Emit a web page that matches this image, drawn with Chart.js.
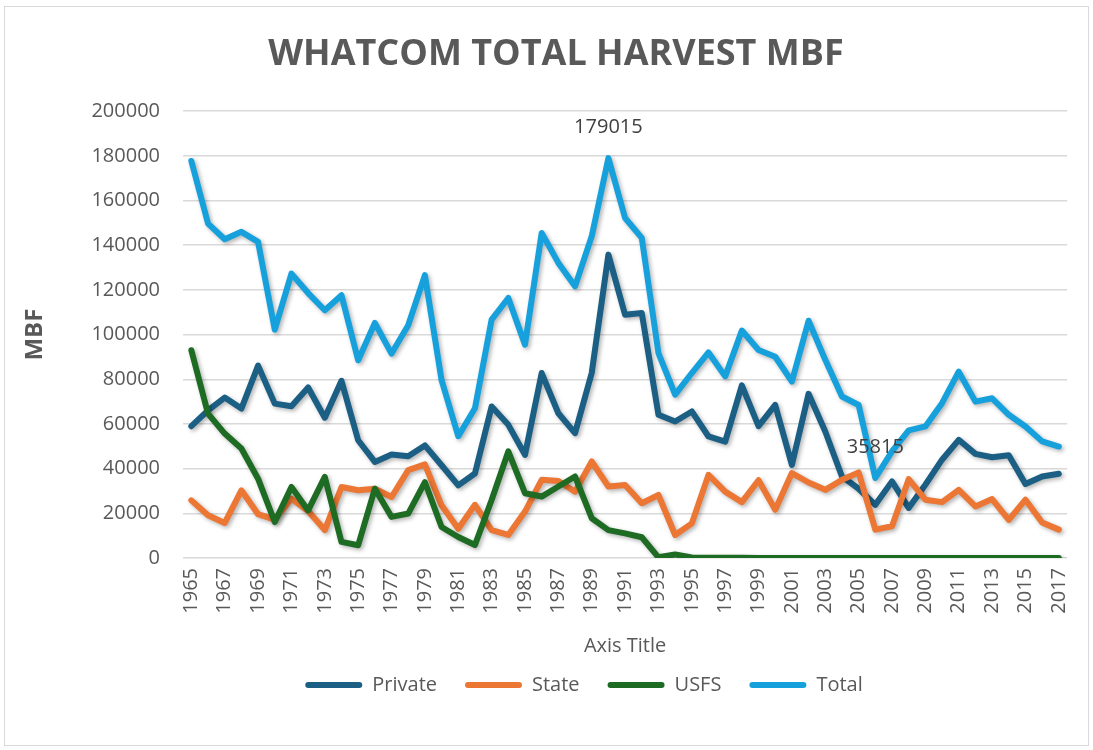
<!DOCTYPE html>
<html>
<head>
<meta charset="utf-8">
<title>Whatcom Total Harvest MBF</title>
<script src="https://cdn.jsdelivr.net/npm/chart.js@4.4.0/dist/chart.umd.min.js"></script>
<style>
  body { margin: 0; background: #fff; }
  #frame { position: absolute; left: 4px; top: 6px; width: 1083px; height: 738px; border: 1px solid #d9d9d9; }
  #wrap { position: absolute; left: 0; top: 0; width: 1093px; height: 750px; }
</style>
</head>
<body>
<div id="frame"></div>
<div id="wrap"><canvas id="chart" width="1093" height="750"></canvas></div>
<script>
const years = []
for (let y = 1965; y <= 2017; y++) years.push(String(y))

// MBF per year
const privateHarvest = [
  59000, 66100, 71800, 66900, 86100, 69100, 67900, 76300, 62800, 79300,
  52700, 43000, 46300, 45500, 50400, 41500, 32500, 37800, 67800, 59600,
  46200, 82800, 64800, 55900, 82800, 135800, 108900, 109700, 64100, 61100,
  65600, 54400, 52100, 77300, 59000, 68500, 41700, 73500, 56600, 36500,
  31000, 23800, 34300, 22400, 32800, 44000, 52900, 46600, 45100, 46000,
  33100, 36500, 37700
]
const stateHarvest = [
  25800, 19100, 15700, 30300, 19600, 17200, 26600, 21000, 12500, 31800,
  30300, 31000, 27300, 39300, 41900, 23600, 13100, 23800, 12500, 10300,
  20800, 35000, 34500, 29700, 43200, 32000, 32700, 24500, 28200, 10300,
  15500, 37200, 29700, 25000, 34800, 21600, 38000, 33800, 30500, 35000,
  38300, 12700, 14200, 35300, 26100, 25000, 30500, 23100, 26400, 17100,
  26100, 15900, 12700
]
const usfsHarvest = [
  93000, 64600, 55700, 49000, 35500, 16100, 31800, 21300, 36300, 7200,
  5700, 31000, 18400, 19900, 34000, 13900, 9400, 5800, 26000, 47700,
  29000, 27500, 32000, 36500, 17800, 12500, 11000, 9300, 300, 1600,
  200, 100, 100, 100, 0, 0, 0, 0, 0, 0,
  0, 0, 0, 0, 0, 0, 0, 0, 0, 0,
  0, 0, 0
]
const totalHarvest = [
  177700, 149700, 142700, 146000, 141500, 102200, 127300, 118600, 110900, 117600,
  88500, 105200, 91500, 104200, 126600, 79600, 54500, 67000, 106700, 116400,
  95500, 145500, 132100, 121600, 144000, 179015, 152200, 143300, 91700, 73100,
  82800, 92000, 81300, 101800, 93100, 90100, 79000, 106200, 88700, 72300,
  68500, 35815, 47700, 57100, 58900, 69300, 83400, 70000, 71500, 64100,
  58900, 52200, 49900
]
const labelledYears = ['1990', '2006']

const textColor = '#595959'
Chart.defaults.font.family = '"Open Sans", sans-serif'

// soft drop shadow under the lines, like the spreadsheet style
const lineShadow = {
  id: 'lineShadow',
  beforeDatasetsDraw(chart) {
    const ctx = chart.ctx
    ctx.save()
    ctx.shadowColor = 'rgba(0, 0, 0, 0.3)'
    ctx.shadowBlur = 4
    ctx.shadowOffsetX = 2
    ctx.shadowOffsetY = 2
  },
  afterDatasetsDraw(chart) {
    chart.ctx.restore()
  }
}

const pointLabels = {
  id: 'pointLabels',
  afterDatasetsDraw(chart) {
    const ctx = chart.ctx
    const meta = chart.getDatasetMeta(3)
    ctx.save()
    ctx.font = '20px "Open Sans"'
    ctx.fillStyle = '#404040'
    ctx.textAlign = 'center'
    ctx.textBaseline = 'middle'
    labelledYears.forEach(y => {
      const i = years.indexOf(y)
      const pt = meta.data[i]
      ctx.fillText(String(totalHarvest[i]), pt.x, pt.y - 31)
    })
    ctx.restore()
  }
}

// title and legend sit a bit right of the canvas centre in the original
const nudge = {
  id: 'nudge',
  afterLayout(chart) {
    chart.titleBlock.left += 9
    chart.titleBlock.right += 9
    chart.legend.left += 37
    chart.legend.right += 37
  }
}

function series(label, data, color, order) {
  return {
    label: label,
    data: data,
    borderColor: color,
    backgroundColor: color,
    borderWidth: 6,
    borderJoinStyle: 'round',
    borderCapStyle: 'round',
    pointRadius: 0,
    pointHoverRadius: 0,
    tension: 0,
    fill: false,
    order: order
  }
}

new Chart(document.getElementById('chart'), {
  type: 'line',
  data: {
    labels: years,
    datasets: [
      series('Private', privateHarvest, '#1b5f84', 4),
      series('State', stateHarvest, '#ec7633', 3),
      series('USFS', usfsHarvest, '#1e6c24', 2),
      series('Total', totalHarvest, '#17a1dc', 1)
    ]
  },
  options: {
    responsive: false,
    animation: false,
    layout: { padding: { top: 10, left: 21, right: 20, bottom: 45 } },
    plugins: {
      title: {
        display: true,
        text: 'WHATCOM TOTAL HARVEST MBF',
        color: textColor,
        font: { size: 36, weight: 'bold' },
        padding: { top: 23, bottom: 35 }
      },
      legend: {
        position: 'bottom',
        labels: {
          boxWidth: 57,
          boxHeight: 6,
          useBorderRadius: true,
          borderRadius: 3,
          padding: 28,
          color: textColor,
          font: { size: 20 },
          generateLabels(chart) {
            return Chart.defaults.plugins.legend.labels.generateLabels(chart)
              .map(item => Object.assign(item, { fillStyle: item.strokeStyle, lineWidth: 0 }))
          },
          sort: (a, b) => a.datasetIndex - b.datasetIndex
        }
      },
      tooltip: { enabled: false }
    },
    scales: {
      x: {
        offset: true,
        grid: { display: false, drawTicks: false },
        border: { display: false },
        ticks: {
          color: textColor,
          font: { size: 20 },
          padding: 10,
          autoSkip: false,
          minRotation: 90,
          maxRotation: 90,
          callback: function (v, i) { return i % 2 === 0 ? this.getLabelForValue(v) : '' }
        },
        title: {
          display: true,
          text: 'Axis Title',
          color: textColor,
          font: { size: 20 },
          padding: { top: 0, bottom: -11.5 }
        },
        afterFit: s => { s.height = 89 }
      },
      y: {
        min: 0,
        max: 200000,
        grid: { color: '#d9d9d9', lineWidth: 1.5, drawTicks: false },
        border: { display: false },
        ticks: {
          stepSize: 20000,
          color: textColor,
          font: { size: 20 },
          padding: 23,
          callback: v => String(v)
        },
        title: {
          display: true,
          text: 'MBF',
          color: textColor,
          font: { size: 24, weight: 'bold' },
          padding: { top: 0, bottom: 0 }
        },
        afterFit: s => { s.width = 162 }
      }
    }
  },
  plugins: [lineShadow, pointLabels, nudge]
})
</script>
</body>
</html>
